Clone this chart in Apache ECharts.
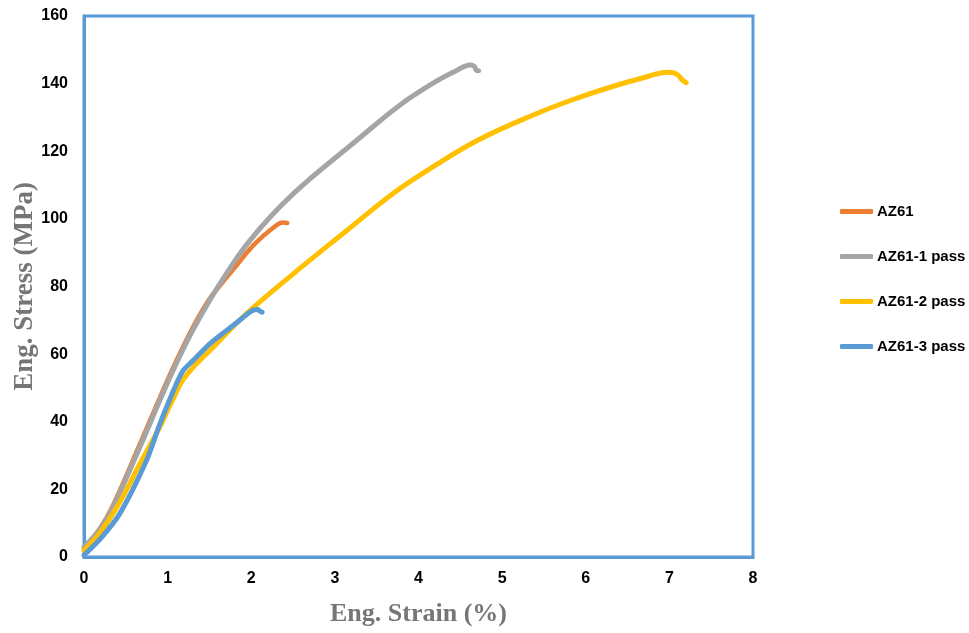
<!DOCTYPE html>
<html>
<head>
<meta charset="utf-8">
<script src="https://cdn.jsdelivr.net/npm/echarts@6/dist/echarts.min.js"></script>
<style>html,body{margin:0;padding:0;background:#fff}#c{width:969px;height:633px}</style>
</head>
<body>
<div id="c"></div>
<script>
const seriesNames = ['AZ61', 'AZ61-1 pass', 'AZ61-2 pass', 'AZ61-3 pass'];
const colors = ['#ed7d31', '#a5a5a5', '#ffc000', '#5b9bd5'];
const xTicks = [0,1,2,3,4,5,6,7,8];
const yTicks = [0,20,40,60,80,100,120,140,160];

const az61 = [[0,2.5],[0.2,8.8],[0.35,15.5],[0.67,33.5],[0.91,47.3],[1.1,57.8],[1.31,68.3],[1.5,76.3],[1.65,81],[1.8,85.5],[2.03,92.3],[2.27,97.5],[2.38,98.9],[2.43,98.8]];
const az61p1 = [[0,3],[0.2,8.5],[0.35,14.9],[0.67,32.6],[0.91,46.5],[1.1,57],[1.31,67.5],[1.63,81],[1.99,93.8],[2.51,107.6],[3.27,123.4],[3.78,133.7],[4.2,140.5],[4.45,143.8],[4.62,145.5],[4.67,145],[4.69,144],[4.72,143.8]];
const az61p2 = [[0,2],[0.2,7.5],[0.4,15],[0.7,29],[0.91,38.6],[1.05,46],[1.21,53.3],[1.55,62.2],[1.95,72.1],[2.51,83.9],[3.15,96.7],[3.7,107.6],[4.18,115.5],[4.72,123.4],[5.38,130.8],[5.85,135.3],[6.3,139],[6.7,141.8],[6.98,143.4],[7.05,143.2],[7.1,142.6],[7.15,141.2],[7.2,140.3]];
const az61p3 = [[0,0.5],[0.2,5.5],[0.43,12.9],[0.75,28.7],[0.91,39.5],[1.11,51.5],[1.19,55.3],[1.3,58],[1.51,63.2],[1.79,68.6],[1.95,71.8],[2.03,73.1],[2.08,73.2],[2.11,72.6],[2.13,72.4]];
const allData = [az61, az61p1, az61p2, az61p3];
const widths = [4.5, 5, 5, 5];
const smooths = [0.4, 0.4, 0.4, 0.25];

const chart = echarts.init(document.getElementById('c'));
chart.setOption({
  animation: false,
  backgroundColor: '#fff',
  grid: { left: 84, top: 16, right: 216, bottom: 76, show: true, borderColor: '#5b9bd5', borderWidth: 3, containLabel: false, outerBoundsMode: 'none' },
  legend: {
    orient: 'vertical', left: 840, top: 204, padding: 0,
    itemWidth: 33, itemHeight: 5, itemGap: 30,
    icon: 'roundRect',
    data: seriesNames,
    textStyle: { fontFamily: 'Liberation Sans', fontWeight: 'bold', fontSize: 15, color: '#000', padding: [0,0,0,-1] }
  },
  xAxis: {
    type: 'value', min: 0, max: 8, interval: 1,
    name: 'Eng. Strain (%)', nameLocation: 'middle', nameGap: 44, nameMoveOverlap: false,
    nameTextStyle: { fontFamily: 'Liberation Serif', fontWeight: 'bold', fontSize: 26, color: '#767676' },
    axisLine: { show: true, lineStyle: { color: '#5b9bd5', width: 3 } },
    axisTick: { show: false }, splitLine: { show: false },
    axisLabel: { margin: 14, fontFamily: 'Liberation Sans', fontWeight: 'bold', fontSize: 16, color: '#000',
      formatter: v => xTicks.includes(v) ? String(v) : '' }
  },
  yAxis: {
    type: 'value', min: 0, max: 160, interval: 20,
    name: 'Eng. Stress (MPa)', nameLocation: 'middle', nameGap: 45, nameMoveOverlap: false,
    nameTextStyle: { fontFamily: 'Liberation Serif', fontWeight: 'bold', fontSize: 27, color: '#767676' },
    axisLine: { show: true, lineStyle: { color: '#5b9bd5', width: 3 } },
    axisTick: { show: false }, splitLine: { show: false },
    axisLabel: { margin: 16, fontFamily: 'Liberation Sans', fontWeight: 'bold', fontSize: 16, color: '#000',
      formatter: v => yTicks.includes(v) ? String(v) : '' }
  },
  series: seriesNames.map((n, i) => ({
    name: n, type: 'line', data: allData[i], smooth: smooths[i], showSymbol: false, symbol: 'none',
    lineStyle: { color: colors[i], width: widths[i], cap: 'round', join: 'round' },
    itemStyle: { color: colors[i] }
  }))
});
</script>
</body>
</html>
